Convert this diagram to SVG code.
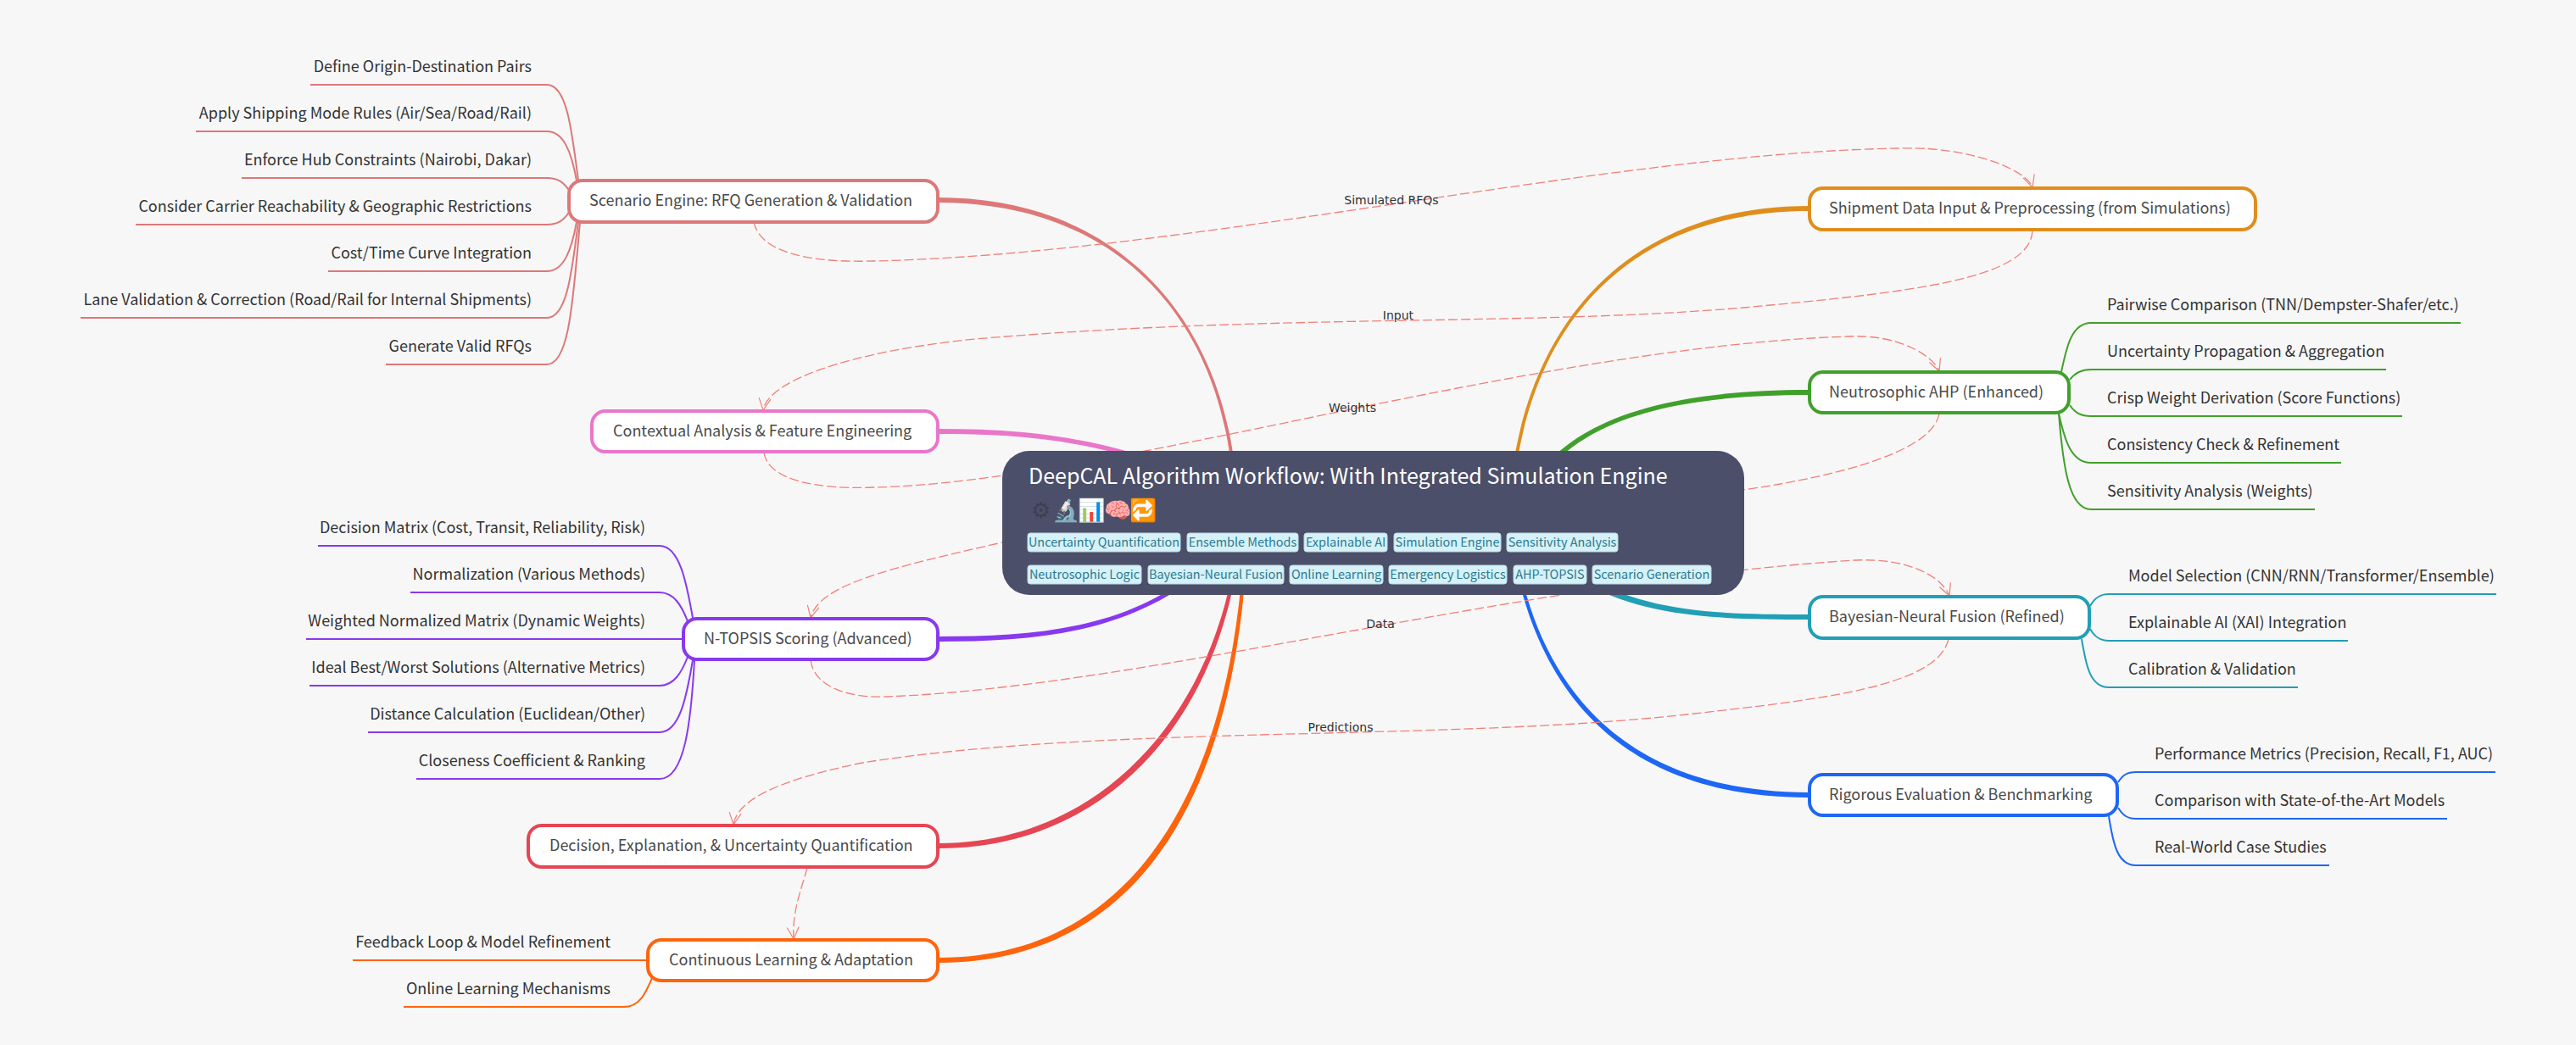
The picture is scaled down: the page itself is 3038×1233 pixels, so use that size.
<svg xmlns="http://www.w3.org/2000/svg" width="3038" height="1233" viewBox="0 0 3038 1233">
<style>
text{font-family:"Noto Sans CJK SC","Noto Sans",sans-serif}
.leaf{font-size:18px;fill:#333}
.e{text-anchor:end}
.nt{font-size:18px;fill:#4a4a4a}
.box{fill:#fff;stroke-width:4}
.rel{fill:none;stroke:#f27f78;stroke-width:1.3;stroke-dasharray:11 4;marker-end:url(#a)}
.rl{font-family:"DejaVu Sans",sans-serif;font-size:14px;fill:#333;text-anchor:middle}
.tagr{fill:#d6f1f7;stroke:#b9dbe4;stroke-width:1}
.tagt{font-size:14.400px;fill:#2b7a90;text-anchor:middle}
.l{fill:none;stroke-width:2}
.fl{stroke:#dd7878}.ma{stroke:#8839ef}.pe{stroke:#fe640b}.gr{stroke:#40a02b}.sa{stroke:#209fb5}.bl{stroke:#1e66f5}.pi{stroke:#ea76cb}.mr{stroke:#e64553}.ye{stroke:#df8e1d}
</style>
<defs>
<marker id="a" markerUnits="userSpaceOnUse" markerWidth="20" markerHeight="20" refX="16" refY="10" orient="auto" overflow="visible"><path d="M2 3L16 10L2 17" fill="none" stroke="#f27f78" stroke-width="1.2"/></marker>
</defs>
<rect width="3038" height="1233" fill="#f7f7f7"/>
<g id="connectors">
<path fill="#dd7878" d="M1106 233C1330 233 1442 390 1457 560L1453 560C1438 390 1330 239 1106 239Z"/>
<path fill="#ea76cb" d="M1107 506C1200 506 1290 513 1402 557L1399 562C1290 518 1200 512 1107 512Z"/>
<path fill="#8839ef" d="M1107 751C1220 751 1330 743 1418 668L1422 672C1330 748 1220 757 1107 757Z"/>
<path fill="#e64553" d="M1107 995C1296 995 1426 848 1456 660L1460 660C1432 852 1304 1001 1107 1001Z"/>
<path fill="#fe640b" d="M1107 1130C1326 1130 1446 948 1466 660L1470 660C1452 952 1334 1136 1107 1136Z"/>
<path fill="#df8e1d" d="M2133 243C1930 243 1808 370 1783 560L1787 560C1812 372 1930 249 2133 249Z"/>
<path fill="#40a02b" d="M2133 460C1980 460 1878 488 1823 548L1827 552C1882 492 1980 466 2133 466Z"/>
<path fill="#209fb5" d="M2133 725C2020 725 1942 722 1862 677L1858 683C1938 728 2020 731 2133 731Z"/>
<path fill="#1e66f5" d="M2133 935C1952 935 1827 848 1790 660L1786 660C1823 852 1948 941 2133 941Z"/>

<path class="l fl" d="M366 100H645C668 100 674 150 682 213"/>
<path class="l fl" d="M231 155H645C665 155 674 180 680 213"/>
<path class="l fl" d="M285 210H645C658 210 665 215 672 226"/>
<path class="l fl" d="M160 265H645C658 265 665 260 672 249"/>
<path class="l fl" d="M387 320H645C665 320 674 295 680 262"/>
<path class="l fl" d="M95 375H645C668 375 674 325 682 262"/>
<path class="l fl" d="M455 430H645C672 430 676 350 684 262"/>

<path class="l ma" d="M375 644H778C802 644 810 690 817 729"/>
<path class="l ma" d="M484 699H778C795 699 804 715 811 733"/>
<path class="l ma" d="M361 754H805"/>
<path class="l ma" d="M365 809H778C795 809 804 793 811 775"/>
<path class="l ma" d="M434 864H778C802 864 810 820 817 779"/>
<path class="l ma" d="M491 919H778C808 919 815 850 819 779"/>

<path class="l pe" d="M416 1133H763"/>
<path class="l pe" d="M476 1188H736C755 1188 762 1170 769 1154"/>

<path class="l gr" d="M2902 381H2466C2443 381 2437 410 2431 439"/>
<path class="l gr" d="M2814 436H2466C2454 436 2447 440 2441 448"/>
<path class="l gr" d="M2833 491H2466C2454 491 2447 487 2441 478"/>
<path class="l gr" d="M2761 546H2466C2443 546 2435 520 2428 488"/>
<path class="l gr" d="M2730 601H2466C2440 601 2433 550 2428 488"/>

<path class="l sa" d="M2944 701H2487C2476 701 2470 706 2465 715"/>
<path class="l sa" d="M2769 756H2487C2476 756 2470 751 2465 742"/>
<path class="l sa" d="M2710 811H2487C2465 811 2460 785 2455 754"/>

<path class="l bl" d="M2943 911H2519C2508 911 2503 915 2498 923"/>
<path class="l bl" d="M2886 966H2519C2508 966 2503 961 2498 953"/>
<path class="l bl" d="M2747 1021H2519C2497 1021 2492 995 2487 963"/>

<path class="rel" d="M889 262C897 300 960 310 1030 308C1400 300 1900 180 2240 175C2320 172 2390 200 2397 221"/>
<path class="rel" d="M2397 272C2395 330 2250 345 2056 363C1800 385 1500 370 1150 400C1000 415 905 450 900 484"/>
<path class="rel" d="M901 534C905 565 960 578 1030 575C1300 570 1800 410 2179 397C2240 394 2280 420 2287 438"/>
<path class="rel" d="M2287 488C2280 530 2180 560 2056 578C1700 620 1400 580 1182 640C1050 670 965 690 956 729"/>
<path class="rel" d="M956 779C960 810 1000 824 1046 822C1350 810 1800 685 2188 661C2250 658 2290 680 2299 703"/>
<path class="rel" d="M2298 754C2285 810 2150 825 1989 843C1700 875 1300 855 1017 900C930 918 870 940 865 973"/>
<path class="rel" d="M952 1024C945 1050 934 1075 936 1108"/>
</g>

<g id="relation-labels">
<text class="rl" x="1641" y="241">Simulated RFQs</text>
<text class="rl" x="1649" y="377">Input</text>
<text class="rl" x="1595" y="486">Weights</text>
<text class="rl" x="1628" y="741">Data</text>
<text class="rl" x="1581" y="863">Predictions</text>
</g>

<g id="root">
<rect x="1182" y="532" width="875" height="170" rx="32" fill="#4c4f69"/>
<text x="1213" y="571" font-size="25" fill="#fff">DeepCAL Algorithm Workflow: With Integrated Simulation Engine</text>
<text x="1216" y="611" font-size="26" fill="#3d3f50">⚙</text>
<text x="1241" y="611" font-size="26" fill="#fff">🔬</text>
<text x="1271" y="611" font-size="26" fill="#fff">📊</text>
<text x="1302" y="611" font-size="26" fill="#fff">🧠</text>
<text x="1332" y="611" font-size="26" fill="#fff">🔁</text>
<rect class="tagr" x="1212" y="629" width="180" height="22" rx="3"/><text class="tagt" x="1302" y="645">Uncertainty Quantification</text>
<rect class="tagr" x="1400" y="629" width="131" height="22" rx="3"/><text class="tagt" x="1465.500" y="645">Ensemble Methods</text>
<rect class="tagr" x="1538" y="629" width="98" height="22" rx="3"/><text class="tagt" x="1587" y="645">Explainable AI</text>
<rect class="tagr" x="1644" y="629" width="126" height="22" rx="3"/><text class="tagt" x="1707" y="645">Simulation Engine</text>
<rect class="tagr" x="1777" y="629" width="131" height="22" rx="3"/><text class="tagt" x="1842.500" y="645">Sensitivity Analysis</text>
<rect class="tagr" x="1212" y="667" width="134" height="22" rx="3"/><text class="tagt" x="1279" y="683">Neutrosophic Logic</text>
<rect class="tagr" x="1354" y="667" width="160" height="22" rx="3"/><text class="tagt" x="1434" y="683">Bayesian-Neural Fusion</text>
<rect class="tagr" x="1521" y="667" width="110" height="22" rx="3"/><text class="tagt" x="1576" y="683">Online Learning</text>
<rect class="tagr" x="1638" y="667" width="139" height="22" rx="3"/><text class="tagt" x="1707.500" y="683">Emergency Logistics</text>
<rect class="tagr" x="1785" y="667" width="86" height="22" rx="3"/><text class="tagt" x="1828" y="683">AHP-TOPSIS</text>
<rect class="tagr" x="1878" y="667" width="140" height="22" rx="3"/><text class="tagt" x="1948" y="683">Scenario Generation</text>
</g>

<g id="scenario-engine">
<rect class="box fl" x="671" y="213" width="435" height="49" rx="16"/>
<text class="nt" x="695" y="243">Scenario Engine: RFQ Generation &amp; Validation</text>
<text class="leaf e" x="627" y="85">Define Origin-Destination Pairs</text>
<text class="leaf e" x="627" y="140">Apply Shipping Mode Rules (Air/Sea/Road/Rail)</text>
<text class="leaf e" x="627" y="195">Enforce Hub Constraints (Nairobi, Dakar)</text>
<text class="leaf e" x="627" y="250">Consider Carrier Reachability &amp; Geographic Restrictions</text>
<text class="leaf e" x="627" y="305">Cost/Time Curve Integration</text>
<text class="leaf e" x="627" y="360">Lane Validation &amp; Correction (Road/Rail for Internal Shipments)</text>
<text class="leaf e" x="627" y="415">Generate Valid RFQs</text>
</g>
<g id="contextual-analysis">
<rect class="box pi" x="698" y="485" width="408" height="48" rx="16"/>
<text class="nt" x="723" y="515">Contextual Analysis &amp; Feature Engineering</text>
</g>
<g id="n-topsis">
<rect class="box ma" x="806" y="730" width="300" height="48" rx="16"/>
<text class="nt" x="830" y="760">N-TOPSIS Scoring (Advanced)</text>
<text class="leaf e" x="761" y="629">Decision Matrix (Cost, Transit, Reliability, Risk)</text>
<text class="leaf e" x="761" y="684">Normalization (Various Methods)</text>
<text class="leaf e" x="761" y="739">Weighted Normalized Matrix (Dynamic Weights)</text>
<text class="leaf e" x="761" y="794">Ideal Best/Worst Solutions (Alternative Metrics)</text>
<text class="leaf e" x="761" y="849">Distance Calculation (Euclidean/Other)</text>
<text class="leaf e" x="761" y="904">Closeness Coefficient &amp; Ranking</text>
</g>
<g id="decision">
<rect class="box mr" x="623" y="974" width="483" height="49" rx="16"/>
<text class="nt" x="648" y="1004">Decision, Explanation, &amp; Uncertainty Quantification</text>
</g>
<g id="continuous-learning">
<rect class="box pe" x="764" y="1109" width="342" height="48" rx="16"/>
<text class="nt" x="789" y="1139">Continuous Learning &amp; Adaptation</text>
<text class="leaf e" x="720" y="1118">Feedback Loop &amp; Model Refinement</text>
<text class="leaf e" x="720" y="1173">Online Learning Mechanisms</text>
</g>
<g id="shipment-data">
<rect class="box ye" x="2134" y="222" width="526" height="49" rx="16"/>
<text class="nt" x="2157" y="252">Shipment Data Input &amp; Preprocessing (from Simulations)</text>
</g>
<g id="neutrosophic-ahp">
<rect class="box gr" x="2134" y="439" width="306" height="48" rx="16"/>
<text class="nt" x="2157" y="469">Neutrosophic AHP (Enhanced)</text>
<text class="leaf" x="2485" y="366">Pairwise Comparison (TNN/Dempster-Shafer/etc.)</text>
<text class="leaf" x="2485" y="421">Uncertainty Propagation &amp; Aggregation</text>
<text class="leaf" x="2485" y="476">Crisp Weight Derivation (Score Functions)</text>
<text class="leaf" x="2485" y="531">Consistency Check &amp; Refinement</text>
<text class="leaf" x="2485" y="586">Sensitivity Analysis (Weights)</text>
</g>
<g id="bayesian-neural">
<rect class="box sa" x="2134" y="704" width="330" height="49" rx="16"/>
<text class="nt" x="2157" y="734">Bayesian-Neural Fusion (Refined)</text>
<text class="leaf" x="2510" y="686">Model Selection (CNN/RNN/Transformer/Ensemble)</text>
<text class="leaf" x="2510" y="741">Explainable AI (XAI) Integration</text>
<text class="leaf" x="2510" y="796">Calibration &amp; Validation</text>
</g>
<g id="rigorous-evaluation">
<rect class="box bl" x="2134" y="914" width="363" height="48" rx="16"/>
<text class="nt" x="2157" y="944">Rigorous Evaluation &amp; Benchmarking</text>
<text class="leaf" x="2541" y="896">Performance Metrics (Precision, Recall, F1, AUC)</text>
<text class="leaf" x="2541" y="951">Comparison with State-of-the-Art Models</text>
<text class="leaf" x="2541" y="1006">Real-World Case Studies</text>
</g>
</svg>
